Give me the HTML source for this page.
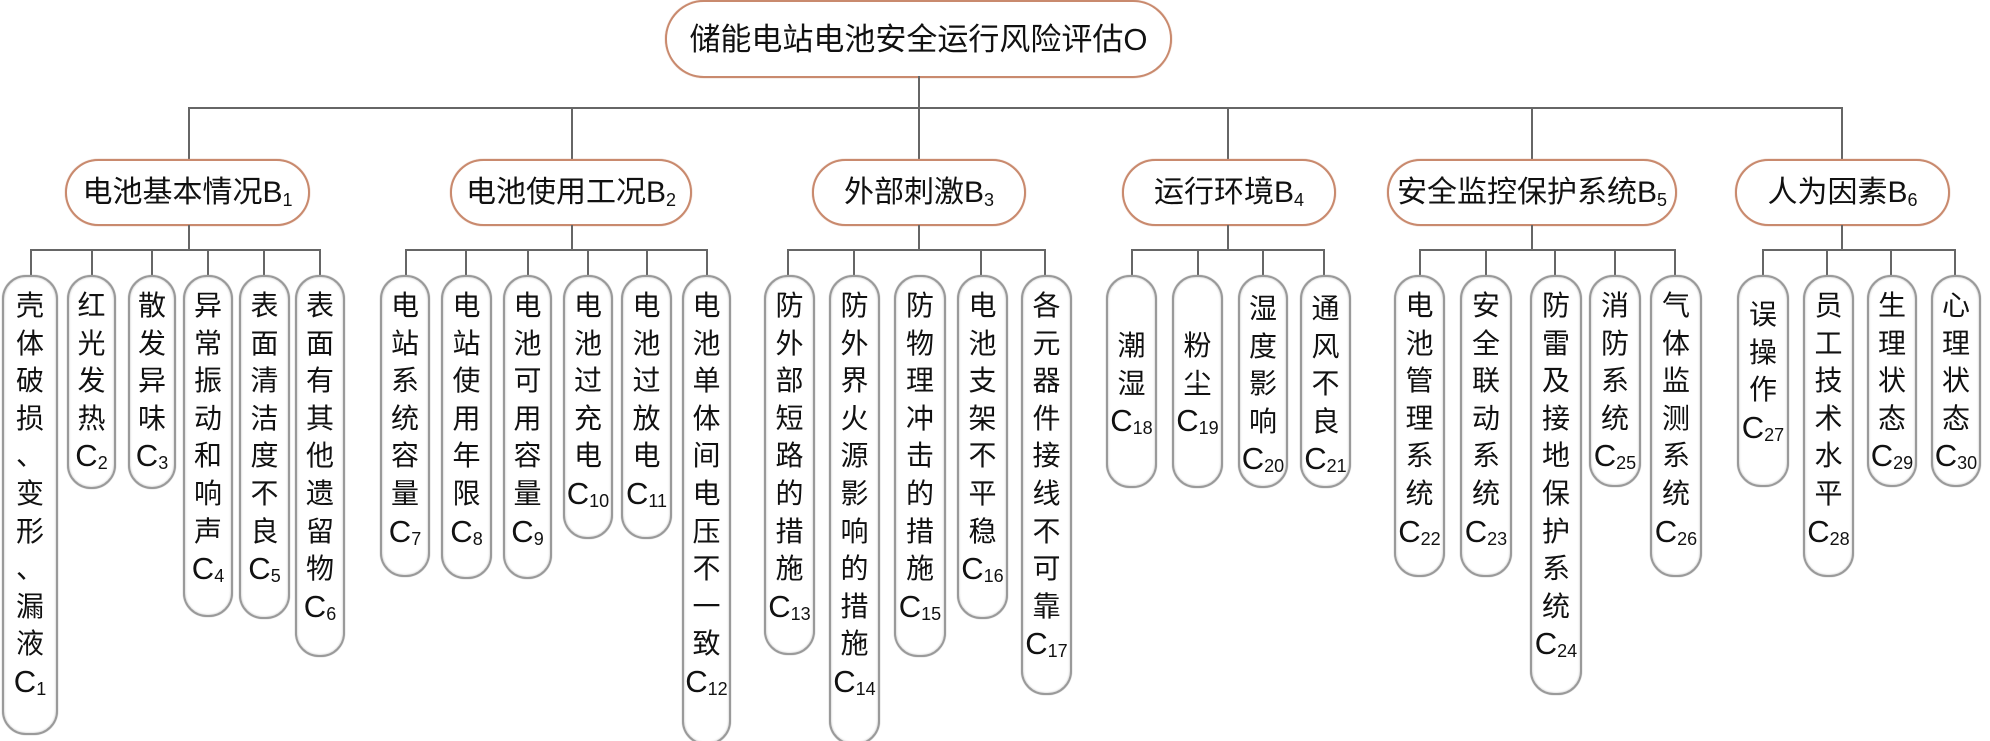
<!DOCTYPE html>
<html><head><meta charset="utf-8">
<style>
body{margin:0;background:#fff;}
#c{position:relative;width:1990px;height:741px;overflow:hidden;background:#fff;font-family:"Liberation Sans","Noto Sans CJK SC",sans-serif;color:#111;}
.l{position:absolute;background:#666;}
.n{position:absolute;border:2px solid #c98a6e;border-radius:40px;background:#fff;box-sizing:border-box;text-align:center;white-space:nowrap;box-shadow:0 0 1px #c98a6e;}
.b{top:159px;height:67px;font-size:30px;line-height:63px;}
.b sub{font-size:18px;vertical-align:-4px;}
.x{position:absolute;top:275px;border:2px solid #9a9a9a;border-radius:24px;background:#fff;box-sizing:border-box;text-align:center;font-size:28px;line-height:37.6px;padding-top:10px;box-shadow:inset 0 0 2px #bbb,0 0 1px #999;}
.x span{font-size:31px;}
.x sub{font-size:18px;vertical-align:-3px;}
</style></head><body><div id="c">
<div class="n" style="left:665px;top:0;width:507px;height:78px;font-size:31px;line-height:76px;border-radius:40px;">储能电站电池安全运行风险评估O</div>
<div class="l" style="left:918px;top:76px;width:2px;height:33px"></div>
<div class="l" style="left:188px;top:107px;width:1655px;height:2px"></div>
<div class="l" style="left:188px;top:107px;width:2px;height:53px"></div>
<div class="l" style="left:571px;top:107px;width:2px;height:53px"></div>
<div class="l" style="left:918px;top:107px;width:2px;height:53px"></div>
<div class="l" style="left:1227px;top:107px;width:2px;height:53px"></div>
<div class="l" style="left:1531px;top:107px;width:2px;height:53px"></div>
<div class="l" style="left:1841px;top:107px;width:2px;height:53px"></div>
<div class="n b" style="left:65px;width:245px">电池基本情况B<sub>1</sub></div>
<div class="n b" style="left:450px;width:242px">电池使用工况B<sub>2</sub></div>
<div class="n b" style="left:812px;width:214px">外部刺激B<sub>3</sub></div>
<div class="n b" style="left:1122px;width:214px">运行环境B<sub>4</sub></div>
<div class="n b" style="left:1387px;width:290px">安全监控保护系统B<sub>5</sub></div>
<div class="n b" style="left:1735px;width:215px">人为因素B<sub>6</sub></div>
<div class="l" style="left:188px;top:225px;width:2px;height:26px"></div>
<div class="l" style="left:571px;top:225px;width:2px;height:26px"></div>
<div class="l" style="left:918px;top:225px;width:2px;height:26px"></div>
<div class="l" style="left:1227px;top:225px;width:2px;height:26px"></div>
<div class="l" style="left:1531px;top:225px;width:2px;height:26px"></div>
<div class="l" style="left:1841px;top:225px;width:2px;height:26px"></div>
<div class="l" style="left:30px;top:249px;width:291px;height:2px"></div>
<div class="l" style="left:405px;top:249px;width:303px;height:2px"></div>
<div class="l" style="left:787px;top:249px;width:259px;height:2px"></div>
<div class="l" style="left:1131px;top:249px;width:194px;height:2px"></div>
<div class="l" style="left:1419px;top:249px;width:257px;height:2px"></div>
<div class="l" style="left:1762px;top:249px;width:194px;height:2px"></div>
<div class="l" style="left:30px;top:249px;width:2px;height:28px"></div>
<div class="l" style="left:91px;top:249px;width:2px;height:28px"></div>
<div class="l" style="left:151px;top:249px;width:2px;height:28px"></div>
<div class="l" style="left:207px;top:249px;width:2px;height:28px"></div>
<div class="l" style="left:263px;top:249px;width:2px;height:28px"></div>
<div class="l" style="left:319px;top:249px;width:2px;height:28px"></div>
<div class="l" style="left:405px;top:249px;width:2px;height:28px"></div>
<div class="l" style="left:465px;top:249px;width:2px;height:28px"></div>
<div class="l" style="left:527px;top:249px;width:2px;height:28px"></div>
<div class="l" style="left:587px;top:249px;width:2px;height:28px"></div>
<div class="l" style="left:646px;top:249px;width:2px;height:28px"></div>
<div class="l" style="left:706px;top:249px;width:2px;height:28px"></div>
<div class="l" style="left:787px;top:249px;width:2px;height:28px"></div>
<div class="l" style="left:853px;top:249px;width:2px;height:28px"></div>
<div class="l" style="left:980px;top:249px;width:2px;height:28px"></div>
<div class="l" style="left:1044px;top:249px;width:2px;height:28px"></div>
<div class="l" style="left:1131px;top:249px;width:2px;height:28px"></div>
<div class="l" style="left:1197px;top:249px;width:2px;height:28px"></div>
<div class="l" style="left:1262px;top:249px;width:2px;height:28px"></div>
<div class="l" style="left:1323px;top:249px;width:2px;height:28px"></div>
<div class="l" style="left:1419px;top:249px;width:2px;height:28px"></div>
<div class="l" style="left:1485px;top:249px;width:2px;height:28px"></div>
<div class="l" style="left:1554px;top:249px;width:2px;height:28px"></div>
<div class="l" style="left:1614px;top:249px;width:2px;height:28px"></div>
<div class="l" style="left:1674px;top:249px;width:2px;height:28px"></div>
<div class="l" style="left:1762px;top:249px;width:2px;height:28px"></div>
<div class="l" style="left:1826px;top:249px;width:2px;height:28px"></div>
<div class="l" style="left:1890px;top:249px;width:2px;height:28px"></div>
<div class="l" style="left:1954px;top:249px;width:2px;height:28px"></div>
<div class="x" style="left:2px;width:56px;height:460px">壳<br>体<br>破<br>损<br>、<br>变<br>形<br>、<br>漏<br>液<br><span>C</span><sub>1</sub></div>
<div class="x" style="left:67px;width:49px;height:214px">红<br>光<br>发<br>热<br><span>C</span><sub>2</sub></div>
<div class="x" style="left:128px;width:48px;height:214px">散<br>发<br>异<br>味<br><span>C</span><sub>3</sub></div>
<div class="x" style="left:183px;width:50px;height:342px">异<br>常<br>振<br>动<br>和<br>响<br>声<br><span>C</span><sub>4</sub></div>
<div class="x" style="left:239px;width:51px;height:344px">表<br>面<br>清<br>洁<br>度<br>不<br>良<br><span>C</span><sub>5</sub></div>
<div class="x" style="left:295px;width:50px;height:382px">表<br>面<br>有<br>其<br>他<br>遗<br>留<br>物<br><span>C</span><sub>6</sub></div>
<div class="x" style="left:380px;width:50px;height:302px">电<br>站<br>系<br>统<br>容<br>量<br><span>C</span><sub>7</sub></div>
<div class="x" style="left:441px;width:51px;height:304px">电<br>站<br>使<br>用<br>年<br>限<br><span>C</span><sub>8</sub></div>
<div class="x" style="left:503px;width:49px;height:304px">电<br>池<br>可<br>用<br>容<br>量<br><span>C</span><sub>9</sub></div>
<div class="x" style="left:563px;width:50px;height:264px">电<br>池<br>过<br>充<br>电<br><span>C</span><sub>10</sub></div>
<div class="x" style="left:621px;width:51px;height:264px">电<br>池<br>过<br>放<br>电<br><span>C</span><sub>11</sub></div>
<div class="x" style="left:682px;width:49px;height:470px">电<br>池<br>单<br>体<br>间<br>电<br>压<br>不<br>一<br>致<br><span>C</span><sub>12</sub></div>
<div class="x" style="left:764px;width:51px;height:380px">防<br>外<br>部<br>短<br>路<br>的<br>措<br>施<br><span>C</span><sub>13</sub></div>
<div class="x" style="left:829px;width:51px;height:470px">防<br>外<br>界<br>火<br>源<br>影<br>响<br>的<br>措<br>施<br><span>C</span><sub>14</sub></div>
<div class="x" style="left:894px;width:52px;height:382px">防<br>物<br>理<br>冲<br>击<br>的<br>措<br>施<br><span>C</span><sub>15</sub></div>
<div class="x" style="left:957px;width:51px;height:344px">电<br>池<br>支<br>架<br>不<br>平<br>稳<br><span>C</span><sub>16</sub></div>
<div class="x" style="left:1021px;width:51px;height:420px">各<br>元<br>器<br>件<br>接<br>线<br>不<br>可<br>靠<br><span>C</span><sub>17</sub></div>
<div class="x" style="left:1106px;width:51px;height:213px;padding-top:50px">潮<br>湿<br><span>C</span><sub>18</sub></div>
<div class="x" style="left:1172px;width:51px;height:213px;padding-top:50px">粉<br>尘<br><span>C</span><sub>19</sub></div>
<div class="x" style="left:1238px;width:50px;height:213px;padding-top:13px">湿<br>度<br>影<br>响<br><span>C</span><sub>20</sub></div>
<div class="x" style="left:1300px;width:51px;height:213px;padding-top:13px">通<br>风<br>不<br>良<br><span>C</span><sub>21</sub></div>
<div class="x" style="left:1394px;width:51px;height:302px">电<br>池<br>管<br>理<br>系<br>统<br><span>C</span><sub>22</sub></div>
<div class="x" style="left:1460px;width:52px;height:302px">安<br>全<br>联<br>动<br>系<br>统<br><span>C</span><sub>23</sub></div>
<div class="x" style="left:1530px;width:52px;height:420px">防<br>雷<br>及<br>接<br>地<br>保<br>护<br>系<br>统<br><span>C</span><sub>24</sub></div>
<div class="x" style="left:1589px;width:52px;height:212px">消<br>防<br>系<br>统<br><span>C</span><sub>25</sub></div>
<div class="x" style="left:1650px;width:52px;height:302px">气<br>体<br>监<br>测<br>系<br>统<br><span>C</span><sub>26</sub></div>
<div class="x" style="left:1737px;width:52px;height:212px;padding-top:19px">误<br>操<br>作<br><span>C</span><sub>27</sub></div>
<div class="x" style="left:1803px;width:51px;height:302px">员<br>工<br>技<br>术<br>水<br>平<br><span>C</span><sub>28</sub></div>
<div class="x" style="left:1867px;width:50px;height:212px">生<br>理<br>状<br>态<br><span>C</span><sub>29</sub></div>
<div class="x" style="left:1931px;width:50px;height:212px">心<br>理<br>状<br>态<br><span>C</span><sub>30</sub></div>
</div></body></html>
